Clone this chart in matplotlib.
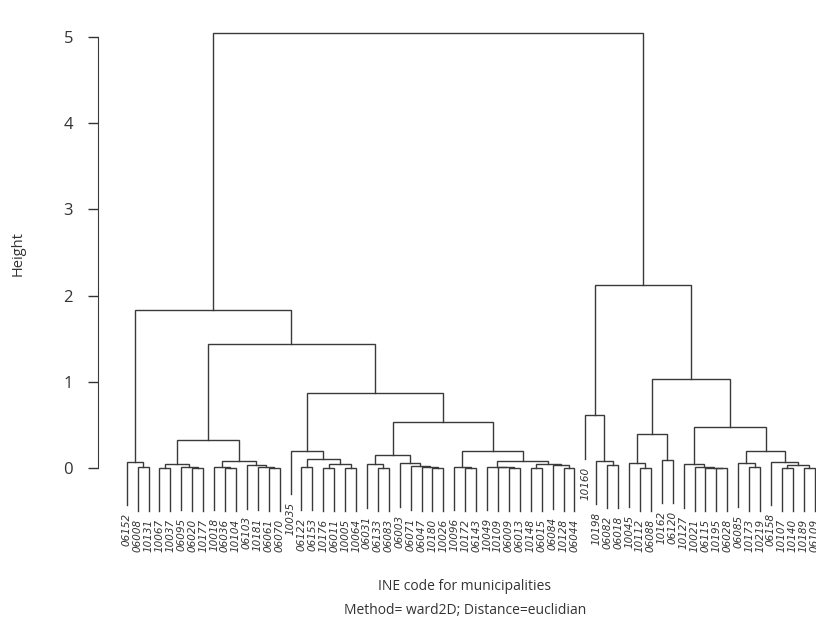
import numpy as np
import matplotlib
matplotlib.use("Agg")
import matplotlib.pyplot as plt

# leaf labels, left to right as they appear under the tree
labels = ["06152", "06008", "10131", "10067", "10037", "06095", "06020", "10177",
          "10018", "06036", "10104", "06103", "10181", "06061", "06070", "10035",
          "06122", "06153", "10176", "06011", "10005", "10064", "06031", "06133",
          "06083", "06003", "06071", "06047", "10180", "10026", "10096", "10172",
          "06143", "10049", "10109", "06009", "06013", "10148", "06015", "06084",
          "10128", "06044", "10160", "10198", "06082", "06018", "10045", "10112",
          "06088", "10162", "06120", "10127", "10021", "06115", "10195", "06028",
          "06085", "10173", "10219", "06158", "10107", "10140", "10189", "06109"]

# merge heights, each node is (height, left, right)
g1 = (0.075, "06152", (0.008, "06008", "10131"))
g2 = (0.043, (0.004, "10067", "10037"), (0.015, "06095", (0.003, "06020", "10177")))
g3 = (0.085, (0.015, "10018", (0.005, "06036", "10104")),
      (0.035, "06103", (0.015, "10181", (0.005, "06061", "06070"))))
g4 = (0.105, (0.012, "06122", "06153"),
      (0.043, (0.002, "10176", "06011"), (0.004, "10005", "10064")))
g5 = (0.155, (0.043, "06031", (0.005, "06133", "06083")),
      (0.055, "06003", (0.02, "06071", (0.01, "06047", (0.003, "10180", "10026")))))
g6 = (0.2, (0.012, "10096", (0.003, "10172", "06143")),
      (0.085, (0.015, "10049", (0.006, "10109", (0.002, "06009", "06013"))),
       (0.047, (0.005, "10148", "06015"), (0.03, "06084", (0.005, "10128", "06044")))))
g7 = (0.61, "10160", (0.085, "10198", (0.04, "06082", "06018")))
g8 = (0.39, (0.055, "10045", (0.003, "10112", "06088")), (0.095, "10162", "06120"))
g9 = (0.043, "10127", (0.01, "10021", (0.005, "06115", (0.002, "10195", "06028"))))
g10 = (0.2, (0.055, "06085", (0.008, "10173", "10219")),
       (0.073, "06158", (0.04, (0.005, "10107", "10140"), (0.005, "10189", "06109"))))

left_branch = (1.83, g1, (1.44, (0.32, g2, g3),
                          (0.87, (0.2, "10035", g4), (0.53, g5, g6))))
right_branch = (2.12, g7, (1.03, g8, (0.48, g9, g10)))
tree = (5.05, left_branch, right_branch)

hang = 0.1 * tree[0]
line_col = "#3a3a3a"
text_col = "#333333"

fig = plt.figure(figsize=(8.16, 6.2), dpi=100)
ax = fig.add_axes([98 / 816, 60 / 620, 718 / 816, 540 / 620])


def draw(node, parent_h):
    """draws a node, returns its x position and the height its stem starts from"""
    if isinstance(node, str):
        x = labels.index(node)
        bottom = parent_h - hang
        ax.text(x, bottom - 0.09, node, rotation=90, ha="center", va="top",
                fontsize=7.5, style="italic", family="DejaVu Sans", color=text_col,
                linespacing=1.0)
        return x, bottom
    h, left, right = node
    xl, yl = draw(left, h)
    xr, yr = draw(right, h)
    ax.plot([xl, xl, xr, xr], [yl, h, h, yr], color=line_col, lw=1.0,
            solid_joinstyle="miter")
    return (xl + xr) / 2, h


draw(tree, tree[0])

ax.set_xlim((98 - 126.7) / 10.92, (816 - 126.7) / 10.92)
ax.set_ylim(-92 / 86.2, 448 / 86.2)

for s in ["top", "right", "bottom"]:
    ax.spines[s].set_visible(False)
ax.spines["left"].set_bounds(0, 5)
ax.spines["left"].set_color(line_col)
ax.set_xticks([])
ax.set_yticks(range(6))
ax.tick_params(axis="y", length=7, width=1, pad=11, colors=text_col, labelsize=12)
for t in ax.get_yticklabels():
    t.set_family("Open Sans")

fig.text(18 / 816, 1 - 254 / 620, "Height", rotation=90, ha="center", va="center",
         fontsize=10.5, family="Open Sans", color=text_col)
fig.text(465 / 816, 1 - 586 / 620, "INE code for municipalities", ha="center",
         va="center", fontsize=10, family="Open Sans", color=text_col)
fig.text(465 / 816, 1 - 610 / 620, "Method= ward2D; Distance=euclidian", ha="center",
         va="center", fontsize=10, family="Open Sans", color=text_col)

fig.savefig("out.png", dpi=100)
